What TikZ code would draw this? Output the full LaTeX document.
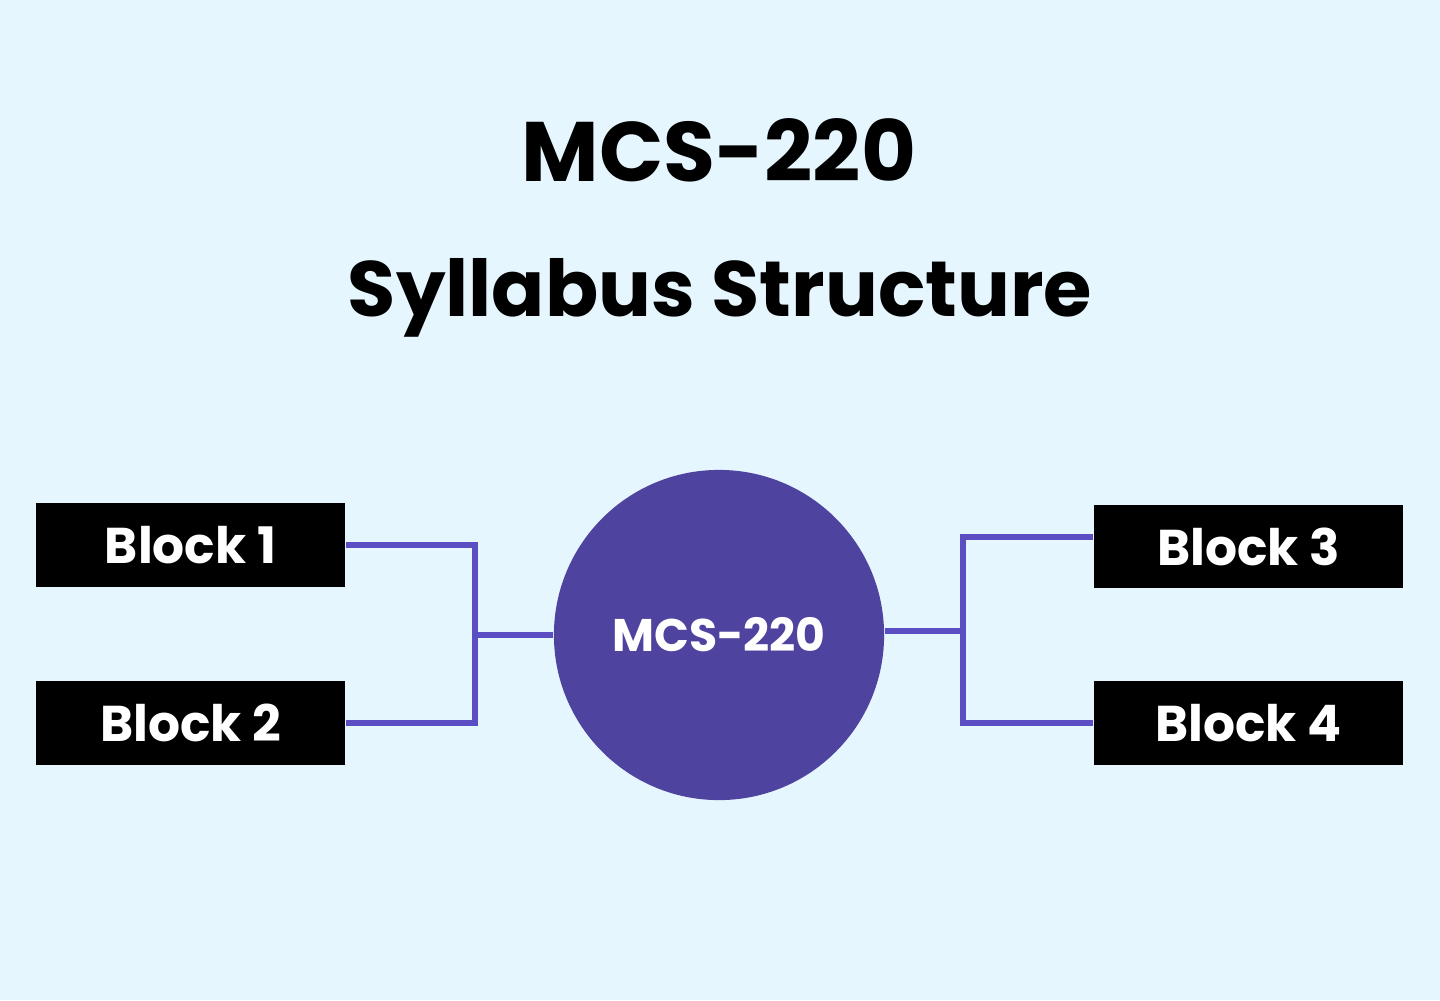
\documentclass[tikz,border=0pt]{standalone}
\usepackage{fontspec}
\setmainfont{Poppins}
\definecolor{bg}{HTML}{E6F6FE}
\definecolor{circ}{HTML}{4F43A0}
\definecolor{ln}{HTML}{5A4EC2}
\begin{document}
\begin{tikzpicture}[x=0.01cm,y=-0.01cm,
  blk/.style={fill=black,minimum width=3.09cm,minimum height=0.83cm,inner sep=0,text=white,font=\fontsize{14.3}{18}\selectfont\bfseries},
  conn/.style={ln,line width=1.6pt}]
\fill[bg] (0,0) rectangle (1440,1000);
\useasboundingbox (0,0) rectangle (1440,1000);
\node[font=\fontsize{24}{28}\selectfont\bfseries] (t1) at (719,150) {MCS-220};
\node[font=\fontsize{22.3}{26}\selectfont\bfseries] (t2) at (720,298) {Syllabus Structure};
\node[circle,fill=circ,minimum size=3.3cm,inner sep=0,text=white,font=\fontsize{13}{16}\selectfont\bfseries] (c) at (719,635) {MCS-220};
\node[blk] (b1) at (190.5,545) {Block 1};
\node[blk] (b2) at (190.5,723) {Block 2};
\node[blk] (b3) at (1248.5,546.5) {Block 3};
\node[blk] (b4) at (1248.5,723) {Block 4};
\coordinate (lj) at (475,635);
\coordinate (rj) at (963,631);
\draw[conn] (b1.east) -| (lj) |- (b2.east);
\draw[conn] (lj) -- (c.west);
\draw[conn] (c.east|-rj) -- (rj);
\draw[conn] (b3.west|-0,537) -| (rj) |- (b4.west);
\end{tikzpicture}
\end{document}
